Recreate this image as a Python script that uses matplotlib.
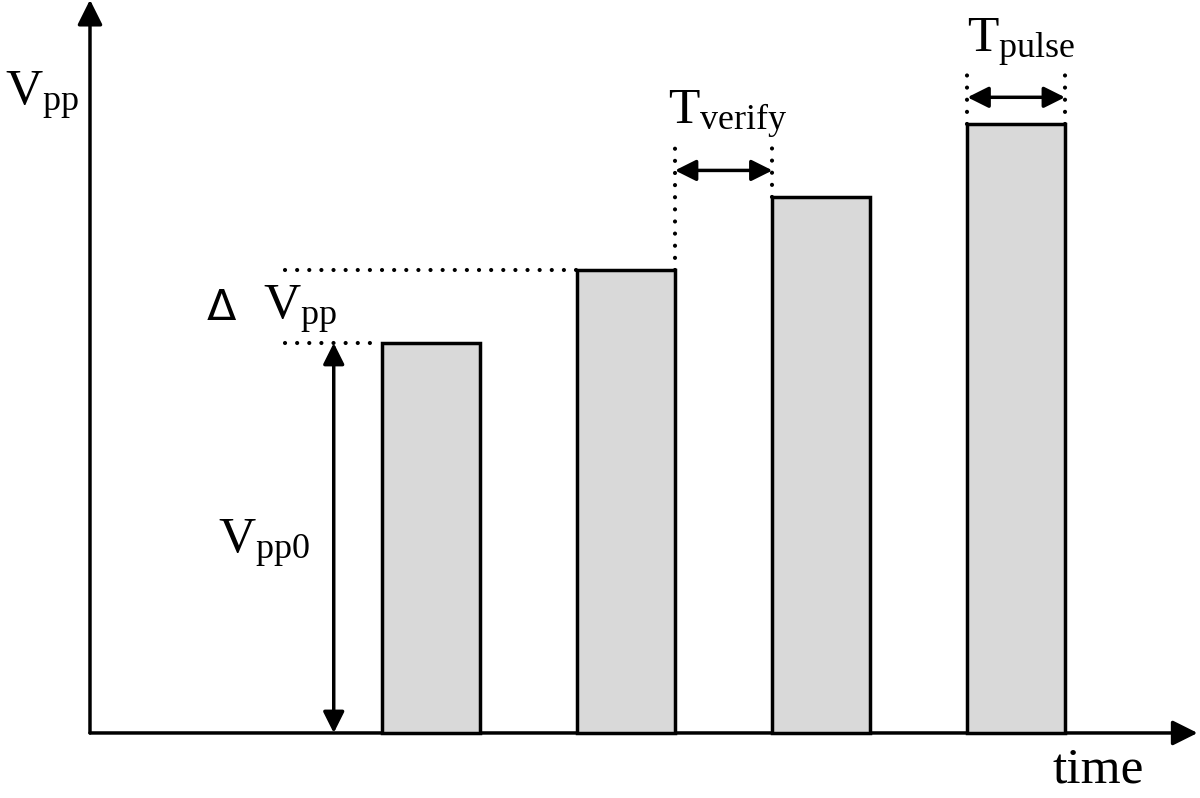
import matplotlib
matplotlib.use("Agg")
import matplotlib.pyplot as plt
from matplotlib.patches import Rectangle

# ---- data (time units, voltage units) ----
pulse_starts = [3.0, 5.0, 7.0, 9.0]
pulse_width = 1.0
pulse_heights = [4.0, 4.75, 5.5, 6.25]
labels = {"vpp": r"$\mathregular{V_{pp}}$", "time": "time",
          "tverify": r"$\mathregular{T_{verify}}$", "tpulse": r"$\mathregular{T_{pulse}}$",
          "dvpp": r"$\mathregular{V_{pp}}$", "vpp0": r"$\mathregular{V_{pp0}}$"}

plt.rcParams['font.family'] = ['Liberation Serif', 'DejaVu Serif']
plt.rcParams['mathtext.fontset'] = 'custom'
plt.rcParams['mathtext.rm'] = 'Liberation Serif'
plt.rcParams['mathtext.it'] = 'Liberation Serif:italic'
plt.rcParams['mathtext.bf'] = 'Liberation Serif:bold'

fig = plt.figure(figsize=(12, 7.98), dpi=100)
ax = fig.add_axes([0, 0, 1, 1])
ax.set_xlim(-0.923, 11.385)
ax.set_ylim(-0.667, 7.518)
ax.axis('off')

# axes with arrows
ax.annotate("", xy=(11.36, 0), xytext=(0, 0),
            arrowprops=dict(arrowstyle='-|>', lw=2.5, color='black', mutation_scale=38, shrinkA=0, shrinkB=0))
ax.annotate("", xy=(0, 7.52), xytext=(0, 0),
            arrowprops=dict(arrowstyle='-|>', lw=2.5, color='black', mutation_scale=38, shrinkA=0, shrinkB=0))

# pulses
for s, h in zip(pulse_starts, pulse_heights):
    ax.add_patch(Rectangle((s, 0), pulse_width, h, facecolor='#d9d9d9', edgecolor='black', lw=2.5, zorder=3))

dot = dict(color='black', lw=3.0, linestyle=(0, (0.01, 2.9)), dash_capstyle='round', solid_capstyle='round')
# horizontal dotted guides
ax.plot([2.0, pulse_starts[0]], [pulse_heights[0]] * 2, **dot)
ax.plot([2.0, pulse_starts[1]], [pulse_heights[1]] * 2, **dot)
# vertical dotted guides
e1 = pulse_starts[1] + pulse_width
ax.plot([e1, e1], [pulse_heights[1], 6.08], **dot)
ax.plot([pulse_starts[2], pulse_starts[2]], [pulse_heights[2], 6.08], **dot)
ax.plot([pulse_starts[3], pulse_starts[3]], [pulse_heights[3], 6.78], **dot)
e3 = pulse_starts[3] + pulse_width
ax.plot([e3, e3], [pulse_heights[3], 6.78], **dot)

arr = dict(arrowstyle='<|-|>', lw=2.5, color='black', mutation_scale=32, shrinkA=0, shrinkB=0)
ax.annotate("", xy=(pulse_starts[2], 5.77), xytext=(e1, 5.77), arrowprops=arr)
ax.annotate("", xy=(e3, 6.52), xytext=(pulse_starts[3], 6.52), arrowprops=arr)
ax.annotate("", xy=(2.5, 0), xytext=(2.5, pulse_heights[0]), arrowprops=arr)

fs = 37
ax.text(-0.87, 6.44, labels["vpp"], fontsize=fs, ha='left', va='baseline')
ax.text(9.87, -0.51, labels["time"], fontsize=fs, ha='left', va='baseline')
ax.text(5.93, 6.24, labels["tverify"], fontsize=fs, ha='left', va='baseline')
ax.text(9.0, 6.98, labels["tpulse"], fontsize=fs, ha='left', va='baseline')
ax.text(1.2, 4.24, "Δ", fontsize=31, ha='left', va='baseline', family=['DejaVu Sans'])
ax.text(1.77, 4.24, labels["dvpp"], fontsize=fs, ha='left', va='baseline')
ax.text(1.31, 1.85, labels["vpp0"], fontsize=fs, ha='left', va='baseline')

fig.savefig("out.png", dpi=100)
